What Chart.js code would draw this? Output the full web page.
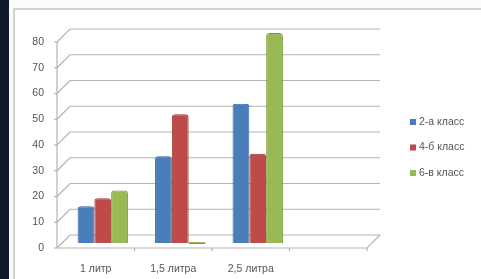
<!DOCTYPE html>
<html>
<head>
<meta charset="utf-8">
<script src="https://cdn.jsdelivr.net/npm/chart.js@4.4.1/dist/chart.umd.min.js"></script>
<style>
  html, body { margin: 0; padding: 0; background: #fff; }
  #wrap { position: relative; width: 481px; height: 279px; overflow: hidden; background: #fbfbfb; }
  #strip { position: absolute; left: 0; top: 0; width: 9px; height: 279px; background: #0c1a2b; }
  #frame { position: absolute; left: 13px; top: 8px; width: 480px; height: 290px; border: 2px solid #d2d2d2; background: #fff; }
  canvas { position: absolute; left: 0; top: 0; }
</style>
</head>
<body>
<div id="wrap">
  <div id="strip"></div>
  <div id="frame"></div>
  <canvas id="chart" width="481" height="279"></canvas>
</div>
<script>
const categories = ['1 литр', '1,5 литра', '2,5 литра', ''];
const class2a = [14, 33, 53, null];
const class4b = [17, 49, 34, null];
const class6v = [20, 0, 80, null];
const seriesNames = ['2-а класс', '4-б класс', '6-в класс'];
const yTicks = [0, 10, 20, 30, 40, 50, 60, 70, 80];

const colors = ['#4a7ebb', '#be4b48', '#98b954'];
const edges = ['#36659e', '#9c3734', '#7a9a3c'];
const FONT = '"Liberation Sans", Arial, sans-serif';
const DEPTH = 13;
const SHIFT = 7;

// 3D-ish walls, gridlines and axis drawn off the label scale
const wallPlugin = {
  id: 'walls',
  beforeDatasetsDraw(chart) {
    const ctx = chart.ctx;
    const area = chart.chartArea;
    const yl = chart.scales.yl;
    const x0 = area.left - SHIFT;
    const w = area.right - area.left;
    ctx.save();
    ctx.strokeStyle = '#b4b4b4';
    ctx.lineWidth = 1.2;
    yTicks.forEach(v => {
      const y = yl.getPixelForValue(v);
      ctx.beginPath();
      ctx.moveTo(x0, y);
      ctx.lineTo(x0 + DEPTH, y - DEPTH);
      ctx.lineTo(x0 + DEPTH + w, y - DEPTH);
      ctx.stroke();
      ctx.beginPath();
      ctx.moveTo(x0 - 3, y);
      ctx.lineTo(x0, y);
      ctx.stroke();
    });
    const yb = yl.getPixelForValue(0);
    ctx.beginPath();
    ctx.moveTo(x0, yl.getPixelForValue(80));
    ctx.lineTo(x0, yb);
    ctx.lineTo(x0 + w, yb);
    ctx.lineTo(x0 + w + DEPTH, yb - DEPTH);
    ctx.stroke();
    const step = w / categories.length;
    for (let i = 1; i <= categories.length; i++) {
      ctx.beginPath();
      ctx.moveTo(x0 + i * step, yb);
      ctx.lineTo(x0 + i * step, yb + 3);
      ctx.stroke();
    }
    ctx.restore();
  }
};

const legendPlugin = {
  id: 'sideLegend',
  afterDraw(chart) {
    const ctx = chart.ctx;
    ctx.save();
    ctx.font = '10.5px ' + FONT;
    ctx.textBaseline = 'middle';
    chart.data.datasets.forEach((ds, i) => {
      const y = 122 + i * 25.5;
      ctx.fillStyle = ds.backgroundColor;
      ctx.fillRect(410, y - 3, 6, 6);
      ctx.fillStyle = '#555';
      ctx.fillText(ds.label, 419, y);
    });
    ctx.restore();
  }
};

new Chart(document.getElementById('chart'), {
  type: 'bar',
  data: {
    labels: categories,
    datasets: [
      { label: seriesNames[0], data: class2a, backgroundColor: colors[0], borderColor: edges[0] },
      { label: seriesNames[1], data: class4b, backgroundColor: colors[1], borderColor: edges[1] },
      { label: seriesNames[2], data: class6v, backgroundColor: colors[2], borderColor: edges[2], minBarLength: 2 }
    ]
  },
  options: {
    responsive: false,
    animation: false,
    layout: { padding: { left: 0, top: 29, right: 107, bottom: 0 } },
    datasets: {
      bar: {
        categoryPercentage: 0.65,
        barPercentage: 1.0,
        borderWidth: 1,
        borderRadius: { topLeft: 3, topRight: 3 },
        borderSkipped: 'bottom'
      }
    },
    plugins: { legend: { display: false }, tooltip: { enabled: false } },
    scales: {
      x: {
        grid: { display: false },
        border: { display: false },
        ticks: {
          labelOffset: -SHIFT,
          padding: 7,
          color: '#555',
          font: { family: FONT, size: 10.5 },
          maxRotation: 0
        },
        afterFit(scale) { scale.height = 31; }
      },
      y: {
        display: false,
        min: -1.9,
        max: 81.5
      },
      yl: {
        position: 'left',
        min: 0,
        max: 85.05,
        grid: { display: false },
        border: { display: false },
        ticks: {
          stepSize: 10,
          padding: 12,
          color: '#555',
          font: { family: FONT, size: 10.5 }
        },
        afterBuildTicks(scale) {
          scale.ticks = yTicks.map(v => ({ value: v }));
        },
        afterFit(scale) { scale.width = 64; }
      }
    }
  },
  plugins: [wallPlugin, legendPlugin]
});
</script>
</body>
</html>
